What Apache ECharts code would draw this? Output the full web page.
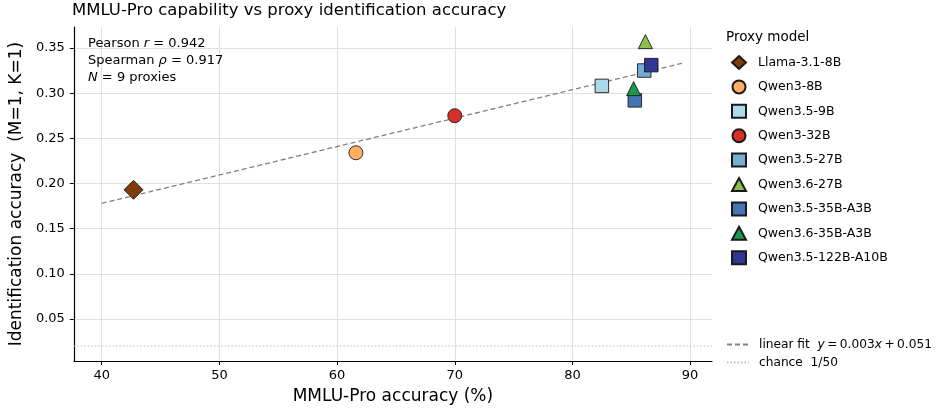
<!DOCTYPE html>
<html>
<head>
<meta charset="utf-8">
<script src="https://cdn.jsdelivr.net/npm/echarts@6/dist/echarts.min.js"></script>
<style>
  html, body { margin: 0; padding: 0; background: #fff; }
  #chart { width: 936px; height: 410px; }
</style>
</head>
<body>
<div id="chart"></div>
<script>
// ---- data ----
const models = ['Llama-3.1-8B', 'Qwen3-8B', 'Qwen3.5-9B', 'Qwen3-32B', 'Qwen3.5-27B',
                'Qwen3.6-27B', 'Qwen3.5-35B-A3B', 'Qwen3.6-35B-A3B', 'Qwen3.5-122B-A10B'];
const mmluPro = [42.7, 61.6, 82.5, 70.0, 86.1, 86.2, 85.3, 85.2, 86.7];
const idAcc   = [0.193, 0.234, 0.308, 0.275, 0.325, 0.357, 0.292, 0.305, 0.331];
const fitX = [40.0, 89.3];
const fitY = [0.178, 0.333];
const chanceY = 0.02;
const xTicks = [40, 50, 60, 70, 80, 90];
const yTicks = [0.05, 0.10, 0.15, 0.20, 0.25, 0.30, 0.35];
const stats = { pearson: '0.942', spearman: '0.917', n: 9 };
const fitLabel = { slope: '0.003', intercept: '0.051' };

// ---- styles ----
const symbols = ['diamond', 'circle', 'rect', 'circle', 'rect', 'triangle', 'rect', 'triangle', 'rect'];
const colors  = ['#7f3b08', '#fdae61', '#abd9e9', '#d73027', '#74add1', '#8cc04a', '#4575b4', '#1a9850', '#313695'];
const sizes   = { diamond: 19, circle: 14, rect: 13.5, triangle: 14 };

const X_MIN = 37.63, X_MAX = 91.86, Y_MIN = 0.0035, Y_MAX = 0.3732;
const FONT = 'DejaVu Sans';

const series = models.map((name, i) => ({
  name: name,
  type: 'scatter',
  symbol: symbols[i],
  symbolSize: sizes[symbols[i]],
  itemStyle: { color: colors[i], borderColor: '#1a1a1a', borderWidth: 0.9, opacity: 1 },
  data: [[mmluPro[i], idAcc[i]]],
  z: 5 + i
}));

series.unshift({
  name: 'chance',
  type: 'line',
  symbol: 'none',
  silent: true,
  lineStyle: { color: '#bdbdbd', width: 1, type: [1.5, 2] },
  itemStyle: { color: '#bdbdbd' },
  data: [[X_MIN, chanceY], [X_MAX, chanceY]],
  z: 2
});
series.unshift({
  name: 'linear fit',
  type: 'line',
  symbol: 'none',
  silent: true,
  lineStyle: { color: '#808080', width: 1.3, type: [5, 3] },
  itemStyle: { color: '#808080' },
  data: fitX.map((x, k) => [x, fitY[k]]),
  z: 3
});

const chart = echarts.init(document.getElementById('chart'), null, { renderer: 'canvas' });
chart.setOption({
  animation: false,
  backgroundColor: '#fff',
  textStyle: { fontFamily: FONT },
  title: [
    { text: 'MMLU-Pro capability vs proxy identification accuracy', left: 72, top: 2, padding: 0,
      textStyle: { fontFamily: FONT, fontSize: 16.5, fontWeight: 'normal', color: '#000' } },
    { text: 'Proxy model', left: 726, top: 30, padding: 0,
      textStyle: { fontFamily: FONT, fontSize: 13.5, fontWeight: 'normal', color: '#000' } }
  ],
  grid: { left: 72, right: 224, top: 27, bottom: 49, containLabel: false },
  xAxis: {
    type: 'value', min: X_MIN, max: X_MAX,
    name: 'MMLU-Pro accuracy (%)', nameLocation: 'middle', nameGap: 27,
    nameTextStyle: { fontFamily: FONT, fontSize: 17, color: '#000' },
    axisLine: { lineStyle: { color: '#000', width: 1.2 } },
    axisTick: { show: true, length: 4, customValues: xTicks, lineStyle: { color: '#000' } },
    axisLabel: { customValues: xTicks, fontFamily: FONT, fontSize: 13, color: '#000', margin: 8 },
    splitLine: { show: true, lineStyle: { color: '#e0e0e0', width: 1 } }
  },
  yAxis: {
    type: 'value', min: Y_MIN, max: Y_MAX,
    name: 'Identification accuracy  (M=1, K=1)', nameLocation: 'middle', nameGap: 35,
    nameTextStyle: { fontFamily: FONT, fontSize: 17, color: '#000' },
    axisLine: { show: true, lineStyle: { color: '#000', width: 1.2 } },
    axisTick: { show: true, length: 4, customValues: yTicks, lineStyle: { color: '#000' } },
    axisLabel: { customValues: yTicks, fontFamily: FONT, fontSize: 13, color: '#000', margin: 9,
                 formatter: v => v.toFixed(2) },
    splitLine: { show: true, lineStyle: { color: '#e0e0e0', width: 1 } }
  },
  legend: [
    {
      data: models, orient: 'vertical', left: 731, top: 55, padding: 0,
      itemWidth: 14, itemHeight: 13, itemGap: 9.4,
      textStyle: { fontFamily: FONT, fontSize: 12.5, color: '#000', padding: [0, 0, 0, 7] },
      selectedMode: false
    },
    {
      data: ['linear fit', 'chance'], orient: 'vertical', left: 726, top: 338.5, padding: 0,
      itemWidth: 22, itemHeight: 10, itemGap: 6,
      itemStyle: { opacity: 0, borderWidth: 0 },
      textStyle: { fontFamily: FONT, fontSize: 12.2, color: '#000', padding: [0, 0, 0, 5],
                   rich: { i: { fontFamily: FONT, fontSize: 12.2, fontStyle: 'italic', color: '#000' } } },
      formatter: name => name === 'linear fit'
        ? 'linear fit  {i|y}\u2009=\u2009' + fitLabel.slope + '{i|x}\u2009+\u2009' + fitLabel.intercept
        : 'chance  1/50',
      selectedMode: false
    }
  ],
  graphic: [
    {
      type: 'text', left: 88, top: 35, z: 100,
      style: {
        text: 'Pearson {i|r} = ' + stats.pearson + '\nSpearman {i|ρ} = ' + stats.spearman +
              '\n{i|N} = ' + stats.n + ' proxies',
        font: '13px "DejaVu Sans"', fill: '#000', lineHeight: 17,
        rich: { i: { fontFamily: FONT, fontSize: 13, fontStyle: 'italic', fill: '#000', lineHeight: 17 } }
      }
    }
  ],
  series: series
});
</script>
</body>
</html>
